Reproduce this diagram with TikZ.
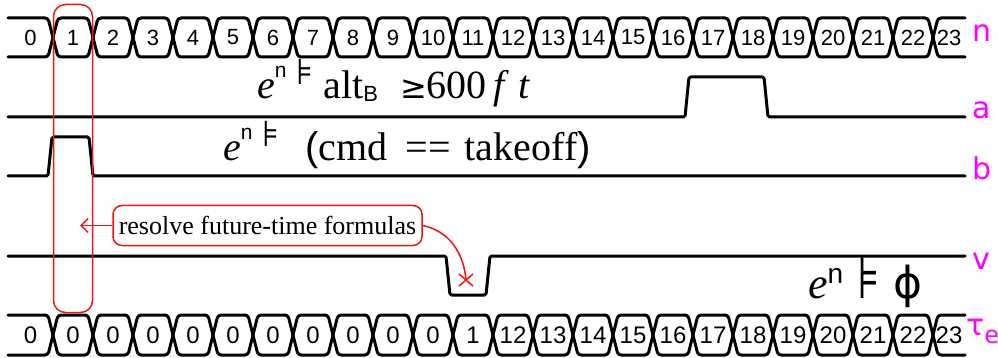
\documentclass[tikz,border=0pt]{standalone}
\usepackage{fontspec}
\setmainfont{Liberation Serif}
\newfontfamily\lsans{Liberation Sans}
\newfontfamily\dvs{DejaVu Sans}
\usetikzlibrary{arrows.meta}
\definecolor{lblmag}{RGB}{255,0,255}
\definecolor{redline}{RGB}{240,20,20}
\newcommand{\myE}[1]{{\fontsize{#1}{#1}\selectfont\itshape e}}
\newcommand{\mySupN}[2]{\raisebox{#2}{\fontsize{#1}{#1}\lsans n}}
\newcommand{\myModels}[3]{\raisebox{#2}{\scalebox{#3}[1]{\fontsize{#1}{#1}\dvs ⊧}}}
\begin{document}
\begin{tikzpicture}[x=1pt,y=-1pt,
  busline/.style={line width=3pt, line cap=round, line join=round, rounded corners=3pt},
  sigline/.style={line width=3pt, line cap=round, line join=round, rounded corners=1.5pt},
  topnum/.style={inner sep=0pt, font=\fontsize{22}{22}\lsans},
  botnum/.style={inner sep=0pt, font=\fontsize{24}{24}\lsans},
  siglbl/.style={inner sep=0pt, anchor=base west, text=lblmag, font=\fontsize{30}{30}\dvs},
  fml/.style={inner sep=0pt, anchor=base west, font=\fontsize{40}{40}\selectfont},
  redbox/.style={draw=redline, line width=1.5pt},
  redarrow/.style={draw=redline, line width=1.5pt, -{Straight Barb[length=7pt,width=14pt]}},
  redcurve/.style={draw=redline, line width=1.5pt}
]
\useasboundingbox (0,0) rectangle (998,358);

% buses
\foreach \T/\B in {18/57, 315/355} {
  \pgfmathsetmacro\M{(\T+\B)/2}
  \draw[busline] (8,\T) -- (48,\T) -- (53,\M);
  \draw[busline] (8,\B) -- (48,\B) -- (53,\M);
  \foreach \k in {1,...,22} {
    \pgfmathsetmacro\L{13+40*\k}
    \pgfmathsetmacro\R{53+40*\k}
    \draw[busline] (\L,\M) -- ({\L+5},\T) -- ({\R-5},\T) -- (\R,\M);
    \draw[busline] (\L,\M) -- ({\L+5},\B) -- ({\R-5},\B) -- (\R,\M);
  }
  \draw[busline] (933,\M) -- (938,\T) -- (965,\T);
  \draw[busline] (933,\M) -- (938,\B) -- (965,\B);
}

% bus labels
\foreach \k in {0,...,23} {
  \pgfmathsetmacro\cx{\k==0 ? 30.5 : (\k==23 ? 949 : 33+40*\k)}
  \pgfmathtruncatemacro\v{\k<11 ? 0 : (\k==11 ? 1 : \k)}
  \node[topnum] (n\k) at (\cx,37.5) {\k};
  \node[botnum] (t\k) at (\cx,335) {\v};
}

% signals
\draw[sigline] (8,117) -- (685,117) -- (689,77) -- (764,77) -- (768,117) -- (965,117);
\draw[sigline] (8,176) -- (48,176) -- (52,137) -- (89,137) -- (93,176) -- (965,176);
\draw[sigline] (8,256) -- (446,256) -- (450,295) -- (486,295) -- (490,256) -- (965,256);

% signal names
\node[siglbl] (ln) at (972,42) {n};
\node[siglbl] (la) at (972,119) {a};
\node[siglbl] (lb) at (972,180) {b};
\node[siglbl] (lv) at (972,269) {v};
\node[siglbl] (lt) at (966,335) {τ\raisebox{-8pt}{\fontsize{24}{24}\dvs e}};

% formulas
\node[fml] (fa) at (257,99) {\myE{40}\mySupN{21}{21pt}\hspace{10pt}\myModels{36}{14pt}{0.9}\hspace{10pt}alt\raisebox{-3pt}{\fontsize{22}{22}\lsans B}\hspace{22pt}{\fontsize{32}{32}\dvs ≥}600{\itshape\,f\,\,t}};
\node[fml] (fb) at (223,161) {\myE{40}\mySupN{21}{21pt}\hspace{10pt}\myModels{36}{14pt}{0.9}\hspace{26pt}{\lsans(}cmd\hspace{18pt}==\hspace{14pt}takeoff{\lsans)}};
\node[fml] (fc) at (808,298) {\myE{44}\mySupN{28}{15pt}\hspace{14pt}\myModels{58}{0pt}{0.75}\hspace{14pt}{\fontsize{44}{44}\dvs ϕ}};

% red frame and callout
\node[redbox, rounded corners=12pt, minimum width=39pt, minimum height=308pt, inner sep=0pt] (frame) at (73,158.5) {};
\node[redbox, rounded corners=9pt, minimum width=309pt, minimum height=40pt, inner sep=0pt, font=\fontsize{26}{26}\selectfont] (note) at (267.5,225.5) {resolve future-time formulas};
\coordinate (ltip) at (80,225.5);
\coordinate (xc) at (466,280);
\draw[redarrow] (note.west) -- (ltip);
\draw[redcurve] (note.east) to[out=-12, in=95] (xc);
\draw[redcurve] (xc) ++(-7,-6) -- ++(14,12);
\draw[redcurve] (xc) ++(-7,6) -- ++(14,-12);
\end{tikzpicture}
\end{document}
